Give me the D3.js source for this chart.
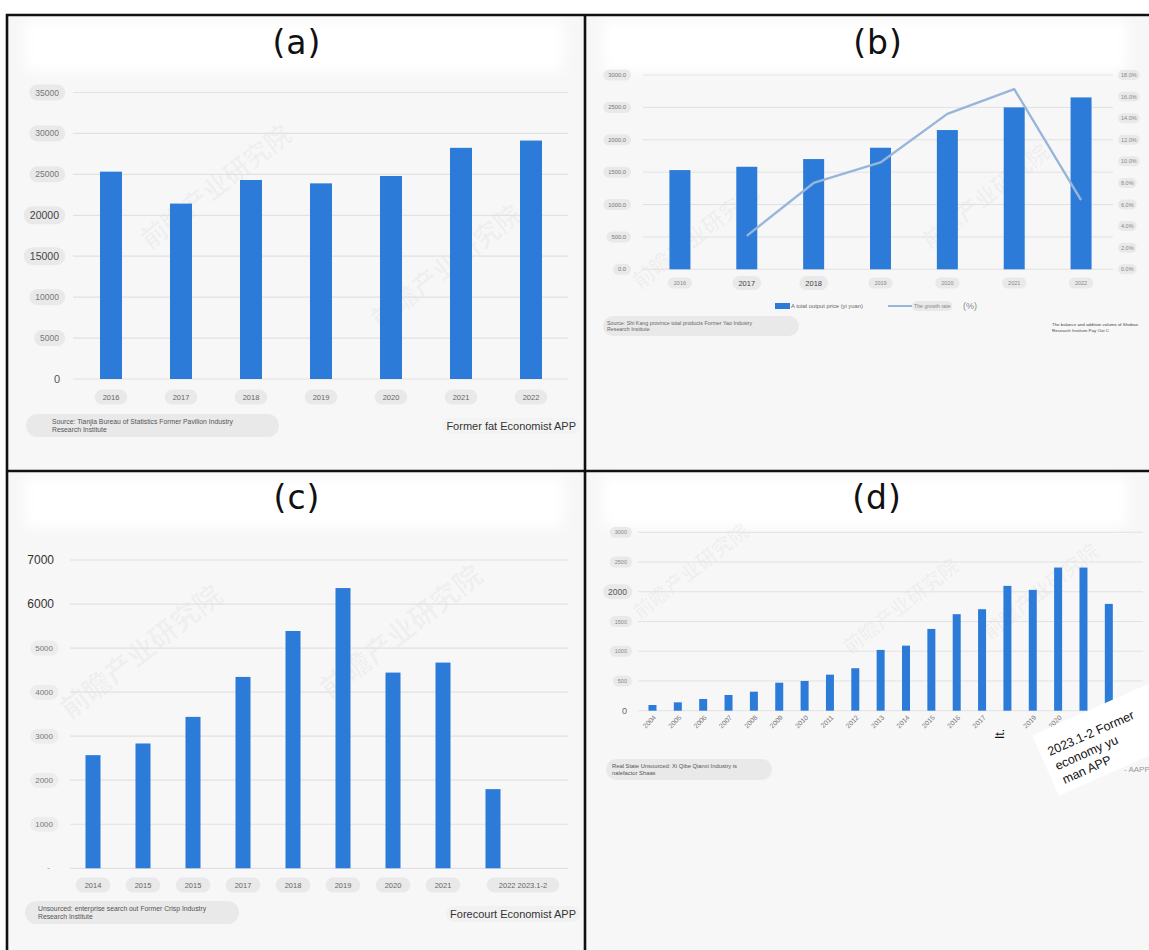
<!DOCTYPE html>
<html>
<head>
<meta charset="utf-8">
<script src="https://cdn.jsdelivr.net/npm/d3@7"></script>
<style>
  html, body { margin: 0; padding: 0; background: #ffffff; }
  svg { display: block; }
</style>
</head>
<body>
<svg id="chart" width="1149" height="950" font-family="Liberation Sans, Arial, sans-serif"></svg>
<script>
// ---- (a) total output, 2016-2022 ----
const aYears = ["2016", "2017", "2018", "2019", "2020", "2021", "2022"];
const aValues = [25330, 21430, 24310, 23900, 24800, 28240, 29130];
const aTicks = [0, 5000, 10000, 15000, 20000, 25000, 30000, 35000];

// ---- (b) output value (bars) and growth rate (line), 2016-2022 ----
const bYears = ["2016", "2017", "2018", "2019", "2020", "2021", "2022"];
const bOutput = [1532, 1583, 1702, 1877, 2150, 2500, 2654];
const bGrowth = [null, 3.1, 8.0, 9.9, 14.4, 16.7, 6.4];
const bTicks = [0, 500, 1000, 1500, 2000, 2500, 3000];
const bRightTicks = [0, 2, 4, 6, 8, 10, 12, 14, 16, 18];

// ---- (c) registered enterprises, 2014-2023.1-2 ----
const cCats = ["2014", "2015", "2016", "2017", "2018", "2019", "2020", "2021", "2022", "2023.1-2"];
const cLabels = ["2014", "2015", "2015", "2017", "2018", "2019", "2020", "2021"];
const cLastLabel = "2022 2023.1-2";
const cValues = [2569, 2834, 3438, 4345, 5388, 6363, 4444, 4671, 1798, null];
const cTicks = [0, 1000, 2000, 3000, 4000, 5000, 6000, 7000];

// ---- (d) yearly series, 2004-2022 ----
const dYears = ["2004", "2005", "2006", "2007", "2008", "2009", "2010", "2011", "2012", "2013",
                "2014", "2015", "2016", "2017", "2018", "2019", "2020", "2021", "2022"];
const dLabels = ["2004", "2005", "2006", "2007", "2008", "2009", "2010", "2011", "2012", "2013",
                 "2014", "2015", "2016", "2017", "It.", "2019", "2020", "2021", "2022"];
const dValues = [96, 141, 197, 264, 320, 471, 500, 606, 714, 1022,
                 1094, 1375, 1623, 1707, 2099, 2032, 2407, 2407, 1796];
const dTicks = [0, 500, 1000, 1500, 2000, 2500, 3000];

const BLUE = "#2d7bd8";
const GRID = "#e2e2e2";
const PILL = "#e9e9e9";

const svg = d3.select("#chart");

const defs = svg.append("defs");
defs.append("filter").attr("id", "haze").attr("x", "-20%").attr("y", "-50%")
  .attr("width", "140%").attr("height", "200%")
  .append("feGaussianBlur").attr("stdDeviation", 6);

// text with a rounded grey pill behind it
function pillText(g, x, y, str, o) {
  o = Object.assign({size: 8, color: "#666", anchor: "middle", padX: 5, padY: 2.5, fill: PILL, weight: "normal"}, o || {});
  const grp = g.append("g");
  const t = grp.append("text")
    .attr("x", x).attr("y", y)
    .attr("text-anchor", o.anchor)
    .attr("dominant-baseline", "central")
    .attr("font-size", o.size)
    .attr("font-weight", o.weight)
    .attr("fill", o.color)
    .text(str);
  const bb = t.node().getBBox();
  grp.insert("rect", "text")
    .attr("x", bb.x - o.padX).attr("y", bb.y - o.padY)
    .attr("width", bb.width + 2 * o.padX).attr("height", bb.height + 2 * o.padY)
    .attr("rx", (bb.height + 2 * o.padY) / 2)
    .attr("fill", o.fill);
  return grp;
}

function multiPill(g, x, y, lines, o) {
  o = Object.assign({size: 7, color: "#444", lh: 8, padX: 10, padY: 4, width: null}, o || {});
  const grp = g.append("g");
  const t = grp.append("text").attr("font-size", o.size).attr("fill", o.color);
  lines.forEach((ln, i) => {
    t.append("tspan").attr("x", x).attr("y", y + i * o.lh).text(ln);
  });
  const bb = t.node().getBBox();
  const w = o.width || bb.width + 2 * o.padX;
  grp.insert("rect", "text")
    .attr("x", bb.x - o.padX).attr("y", bb.y - o.padY)
    .attr("width", w).attr("height", bb.height + 2 * o.padY)
    .attr("rx", (bb.height + 2 * o.padY) / 2)
    .attr("fill", PILL);
  return grp;
}

function watermark(g, x, y, size) {
  g.append("text")
    .attr("transform", `translate(${x},${y}) rotate(-38)`)
    .attr("font-family", "Noto Sans CJK SC")
    .attr("font-size", size)
    .attr("font-weight", "bold")
    .attr("fill", "#000").attr("fill-opacity", 0.035)
    .text("前瞻产业研究院");
}

// ---- panel backgrounds ----
const panels = [
  {x: 7, y: 15, w: 578, h: 456, label: "(a)", lx: 297, ly: 54},
  {x: 585, y: 15, w: 564, h: 456, label: "(b)", lx: 878, ly: 54},
  {x: 7, y: 471, w: 578, h: 479, label: "(c)", lx: 297, ly: 509},
  {x: 585, y: 471, w: 564, h: 479, label: "(d)", lx: 877, ly: 509}
];
panels.forEach(p => {
  svg.append("rect").attr("x", p.x).attr("y", p.y).attr("width", p.w).attr("height", p.h)
    .attr("fill", "#f7f7f7");
  svg.append("rect").attr("x", p.x + 18).attr("y", p.y + 6).attr("width", p.w - 40).attr("height", 50)
    .attr("fill", "#ffffff").attr("filter", "url(#haze)");
});

// =================== (a) ===================
{
  const g = svg.append("g");
  watermark(g, 150, 250, 26);
  watermark(g, 380, 330, 26);
  const x = d3.scalePoint().domain(aYears).range([76, 566]).padding(0.5);
  const y = d3.scaleLinear().domain([0, 35000]).range([379, 92.5]);

  g.append("g").selectAll("line").data(aTicks).join("line")
    .attr("x1", 73).attr("x2", 568)
    .attr("y1", d => y(d)).attr("y2", d => y(d))
    .attr("stroke", GRID).attr("stroke-width", 1.2);

  const bigA = new Set([20000, 15000, 0]);
  aTicks.forEach(t => {
    const big = bigA.has(t);
    if (t === 0) {
      g.append("text").attr("x", 60).attr("y", y(t)).attr("text-anchor", "end")
        .attr("dominant-baseline", "central").attr("font-size", 11).attr("fill", "#555").text("0");
    } else {
      pillText(g, 59, y(t), d3.format("d")(t), {
        size: big ? 10.5 : 8.5, color: big ? "#444" : "#777", anchor: "end", padX: 6, padY: 3
      });
    }
  });

  g.append("g").selectAll("rect").data(aYears).join("rect")
    .attr("x", d => x(d) - 11).attr("width", 22)
    .attr("y", (d, i) => y(aValues[i]))
    .attr("height", (d, i) => y(0) - y(aValues[i]))
    .attr("fill", BLUE);

  aYears.forEach(yr => pillText(g, x(yr), 397, yr, {size: 7.5, color: "#666", padX: 8, padY: 3}));

  multiPill(g, 52, 424, ["Source: Tianjia Bureau of Statistics Former Pavilion Industry", "Research Institute"],
    {size: 6.8, color: "#555", lh: 8, padX: 26, padY: 4, width: 253});
  pillText(g, 576, 426, "Former fat Economist APP", {size: 11, color: "#333", anchor: "end", padX: 4, padY: 2, fill: "#f3f3f3"});
}

// =================== (b) ===================
{
  const g = svg.append("g");
  watermark(g, 640, 290, 22);
  watermark(g, 930, 250, 22);
  const x = d3.scalePoint().domain(bYears).range([646.5, 1114.5]).padding(0.5);
  const y = d3.scaleLinear().domain([0, 3000]).range([269.3, 75]);
  const yr = d3.scaleLinear().domain([0, 18]).range([269.3, 75]);

  g.append("g").selectAll("line").data(bTicks).join("line")
    .attr("x1", 643).attr("x2", 1113)
    .attr("y1", d => y(d)).attr("y2", d => y(d))
    .attr("stroke", GRID).attr("stroke-width", 1);

  bTicks.forEach(t => {
    pillText(g, 626, y(t), d3.format(".1f")(t), {size: 5.8, color: "#777", anchor: "end", padX: 5, padY: 2.5});
  });
  bRightTicks.forEach(t => {
    pillText(g, 1121, yr(t), d3.format(".1f")(t) + "%", {size: 5.5, color: "#888", anchor: "start", padX: 3, padY: 2});
  });

  g.append("g").selectAll("rect").data(bYears).join("rect")
    .attr("x", d => x(d) - 10.5).attr("width", 21)
    .attr("y", (d, i) => y(bOutput[i]))
    .attr("height", (d, i) => y(0) - y(bOutput[i]))
    .attr("fill", BLUE);

  const line = d3.line()
    .defined(d => d.v != null)
    .x(d => x(d.k)).y(d => yr(d.v))
    .curve(d3.curveLinear);
  g.append("path")
    .datum(bYears.map((k, i) => ({k, v: bGrowth[i]})))
    .attr("d", line)
    .attr("fill", "none").attr("stroke", "#98b6da").attr("stroke-width", 2.4)
    .attr("stroke-linejoin", "round");

  const bigB = new Set(["2017", "2018"]);
  bYears.forEach(yy => pillText(g, x(yy), 283, yy, {
    size: bigB.has(yy) ? 7.5 : 5.5, color: bigB.has(yy) ? "#444" : "#888", padX: 6, padY: 2.5
  }));

  // legend
  g.append("rect").attr("x", 775).attr("y", 303).attr("width", 15).attr("height", 6).attr("fill", BLUE);
  g.append("text").attr("x", 791).attr("y", 306).attr("dominant-baseline", "central")
    .attr("font-size", 5.8).attr("fill", "#666").text("A total output price (yi yuan)");
  g.append("line").attr("x1", 888).attr("x2", 912).attr("y1", 306).attr("y2", 306)
    .attr("stroke", "#98b6da").attr("stroke-width", 2);
  pillText(g, 914, 306, "The growth rate", {size: 5.2, color: "#888", anchor: "start", padX: 2, padY: 2});
  g.append("text").attr("x", 963).attr("y", 306).attr("dominant-baseline", "central")
    .attr("font-size", 9).attr("fill", "#888").text("(%)");

  multiPill(g, 607, 325, ["Source: Shi Kang province total products Former Yao Industry", "Research Institute"],
    {size: 5.3, color: "#666", lh: 6, padX: 4, padY: 4, width: 196});
  g.append("text").attr("font-size", 4.4).attr("fill", "#444")
    .call(t => {
      t.append("tspan").attr("x", 1052).attr("y", 326).text("The balance and addition volume of Shebao");
      t.append("tspan").attr("x", 1052).attr("y", 332).text("Research Institute Pay Out C");
    });
}

// =================== (c) ===================
{
  const g = svg.append("g");
  watermark(g, 70, 720, 28);
  watermark(g, 330, 700, 28);
  const x = d3.scalePoint().domain(cCats).range([68, 568]).padding(0.5);
  const y = d3.scaleLinear().domain([0, 7000]).range([868.3, 560]);

  g.append("g").selectAll("line").data(cTicks).join("line")
    .attr("x1", 70).attr("x2", 568)
    .attr("y1", d => y(d)).attr("y2", d => y(d))
    .attr("stroke", GRID).attr("stroke-width", 1.2);

  const bigC = new Set([7000, 6000]);
  cTicks.forEach(t => {
    if (t === 0) {
      g.append("text").attr("x", 50).attr("y", y(t)).attr("text-anchor", "end")
        .attr("dominant-baseline", "central").attr("font-size", 9).attr("fill", "#aaa").text("-");
    } else if (bigC.has(t)) {
      g.append("text").attr("x", 54).attr("y", y(t)).attr("text-anchor", "end")
        .attr("dominant-baseline", "central").attr("font-size", 12).attr("fill", "#333").text(t);
    } else {
      pillText(g, 53, y(t), String(t), {size: 8, color: "#777", anchor: "end", padX: 5, padY: 3, fill: "#ededed"});
    }
  });

  const withBars = cCats.map((k, i) => ({k, v: cValues[i]})).filter(d => d.v != null);
  g.append("g").selectAll("rect").data(withBars).join("rect")
    .attr("x", d => x(d.k) - 7.5).attr("width", 15)
    .attr("y", d => y(d.v))
    .attr("height", d => y(0) - y(d.v))
    .attr("fill", BLUE);

  cLabels.forEach((lab, i) => pillText(g, x(cCats[i]), 885, lab, {size: 7.5, color: "#666", padX: 9, padY: 3}));
  const lastX = (x(cCats[8]) + x(cCats[9])) / 2 + 5;
  pillText(g, lastX, 885, cLastLabel, {size: 7.5, color: "#666", padX: 12, padY: 3});

  multiPill(g, 38, 911, ["Unsourced: enterprise search out Former Crisp Industry", "Research Institute"],
    {size: 6.8, color: "#555", lh: 8, padX: 13, padY: 4, width: 214});
  pillText(g, 576, 914, "Forecourt Economist APP", {size: 11, color: "#333", anchor: "end", padX: 4, padY: 2, fill: "#f1f1f1"});
}

// =================== (d) ===================
{
  const g = svg.append("g");
  watermark(g, 640, 620, 20);
  watermark(g, 850, 655, 20);
  watermark(g, 990, 640, 20);
  const x = d3.scalePoint().domain(dYears).range([639.8, 1121.5]).padding(0.5);
  const y = d3.scaleLinear().domain([0, 3000]).range([710.7, 532.3]);

  g.append("g").selectAll("line").data(dTicks).join("line")
    .attr("x1", 638).attr("x2", 1143)
    .attr("y1", d => y(d)).attr("y2", d => y(d))
    .attr("stroke", GRID).attr("stroke-width", 1);

  const bigD = new Set([2000, 0]);
  dTicks.forEach(t => {
    if (t === 0) {
      g.append("text").attr("x", 627).attr("y", y(t)).attr("text-anchor", "end")
        .attr("dominant-baseline", "central").attr("font-size", 9).attr("fill", "#666").text("0");
    } else {
      pillText(g, 627, y(t), String(t), {
        size: bigD.has(t) ? 8.5 : 5.5, color: bigD.has(t) ? "#555" : "#888", anchor: "end", padX: 5, padY: 2.5
      });
    }
  });

  g.append("g").selectAll("rect").data(dYears).join("rect")
    .attr("x", d => x(d) - 4).attr("width", 8)
    .attr("y", (d, i) => y(dValues[i]))
    .attr("height", (d, i) => y(0) - y(dValues[i]))
    .attr("fill", BLUE);

  dYears.forEach((yr, i) => {
    const lab = dLabels[i];
    if (lab === "It.") {
      g.append("text")
        .attr("transform", `translate(${x(yr) - 3},${739}) rotate(-90)`)
        .attr("font-size", 12).attr("fill", "#111").text(lab);
    } else {
      g.append("text")
        .attr("transform", `translate(${x(yr) + 4},${718}) rotate(-45)`)
        .attr("text-anchor", "end")
        .attr("font-size", 6.8).attr("fill", "#777").text(lab);
    }
  });

  multiPill(g, 612, 768, ["Real State Unsourced: Xi Qibe Qianxi Industry is", "nalefactor Shaas"],
    {size: 5.8, color: "#555", lh: 7, padX: 6, padY: 4, width: 166});

  g.append("text").attr("x", 1124).attr("y", 772).attr("font-size", 8)
    .attr("fill", "#999").text("- AAPP");

  // white caption card laid over the last labels
  const card = g.append("g").attr("transform", "translate(1050,756) rotate(-24)");
  card.append("rect").attr("x", -8).attr("y", -26).attr("width", 130).attr("height", 66)
    .attr("fill", "#ffffff");
  const cap = card.append("text").attr("font-size", 12.5).attr("fill", "#111");
  cap.append("tspan").attr("x", 0).attr("y", 0).text("2023.1-2 Former");
  cap.append("tspan").attr("x", 1).attr("y", 16).text("economy yu");
  cap.append("tspan").attr("x", 2).attr("y", 31.5).text("man APP");
}

// ---- black frame dividing the four panels ----
const frame = svg.append("g").attr("stroke", "#111").attr("stroke-width", 2.6);
frame.append("line").attr("x1", 6).attr("x2", 1149).attr("y1", 15).attr("y2", 15);
frame.append("line").attr("x1", 7).attr("x2", 7).attr("y1", 14).attr("y2", 950);
frame.append("line").attr("x1", 585).attr("x2", 585).attr("y1", 14).attr("y2", 950);
frame.append("line").attr("x1", 7).attr("x2", 1149).attr("y1", 471).attr("y2", 471);

// panel letters
panels.forEach(p => {
  svg.append("text").attr("x", p.lx).attr("y", p.ly).attr("text-anchor", "middle")
    .attr("font-family", "DejaVu Sans").attr("font-size", 33).attr("letter-spacing", 1)
    .attr("fill", "#111").text(p.label);
});
</script>
</body>
</html>
